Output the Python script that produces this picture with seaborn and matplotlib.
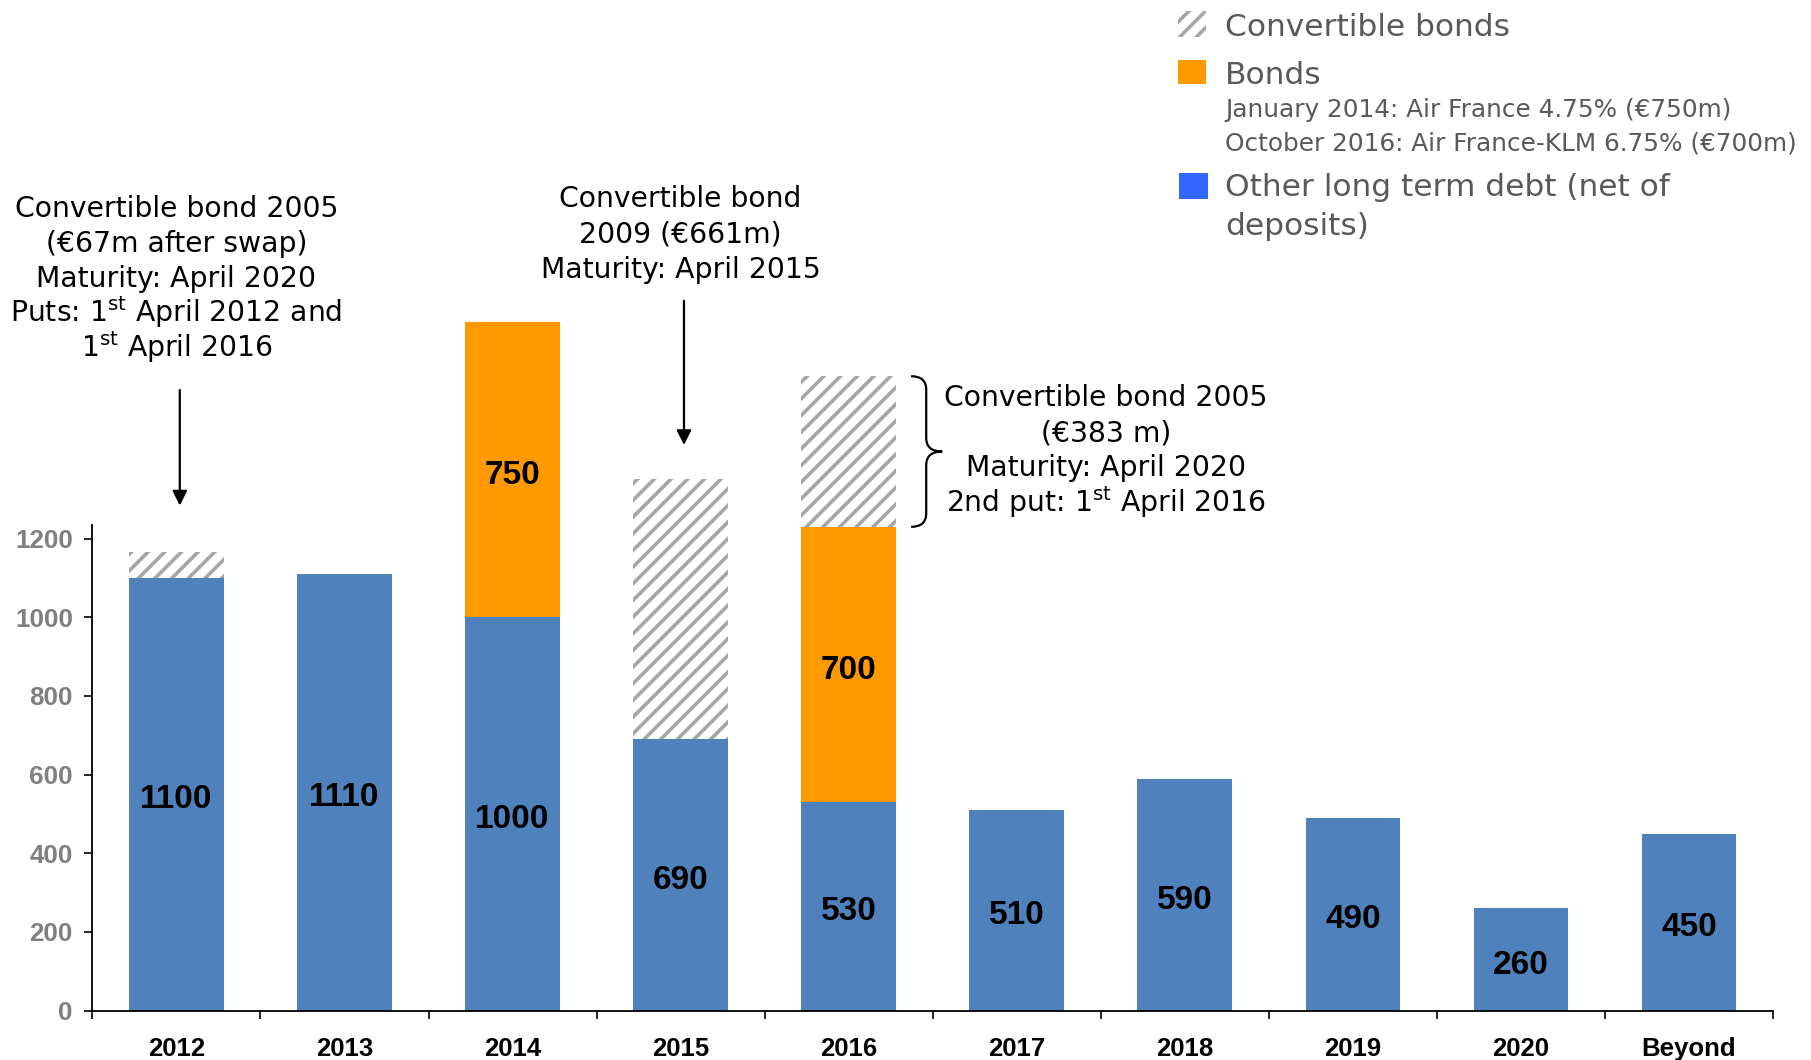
import numpy as np
import pandas as pd
import matplotlib
matplotlib.use("Agg")
import matplotlib.pyplot as plt
from matplotlib.patches import Rectangle, PathPatch
from matplotlib.path import Path
import seaborn as sns

# ---------------- data ----------------
categories = ["2012", "2013", "2014", "2015", "2016", "2017", "2018", "2019", "2020", "Beyond"]
other_debt = [1100, 1110, 1000, 690, 530, 510, 590, 490, 260, 450]
bonds = [0, 0, 750, 0, 700, 0, 0, 0, 0, 0]
convertible = [67, 0, 0, 661, 383, 0, 0, 0, 0, 0]
y_ticks = [0, 200, 400, 600, 800, 1000, 1200]

legend_labels = ["Convertible bonds", "Bonds", "Other long term debt (net of\ndeposits)"]
bond_notes = ["January 2014: Air France 4.75% (€750m)",
              "October 2016: Air France-KLM 6.75% (€700m)"]
note_2012 = ["Convertible bond 2005", "(€67m after swap)", "Maturity: April 2020",
             "Puts: 1$^{st}$ April 2012 and", "1$^{st}$ April 2016"]
note_2015 = ["Convertible bond", "2009 (€661m)", "Maturity: April 2015"]
note_2016 = ["Convertible bond 2005", "(€383 m)", "Maturity: April 2020",
             "2nd put: 1$^{st}$ April 2016"]

# ---------------- style ----------------
sns.set_theme(style="white")
plt.rcParams["font.family"] = ["DejaVu Sans"]
plt.rcParams["mathtext.default"] = "regular"
plt.rcParams["hatch.linewidth"] = 2.6
plt.rcParams["hatch.color"] = "#A6A6A6"

BLUE = "#4F81BD"
ORANGE = "#FF9900"
HATCH = "#A6A6A6"
LEG_BLUE = "#3366FF"
GREY_TXT = "#595959"

df = pd.DataFrame({"cat": categories, "other": other_debt, "bonds": bonds, "conv": convertible})
df["lvl2"] = df["other"] + df["bonds"]
df["total"] = df["lvl2"] + df["conv"]

W, H = 1811, 1060
fig = plt.figure(figsize=(W / 100, H / 100), dpi=100)
left_px, right_px, base_px = 92.4, 1773.0, 1010.6
px_per_unit = 0.3933
ymax = base_px / px_per_unit
ax = fig.add_axes([left_px / W, 1 - base_px / H, (right_px - left_px) / W, base_px / H])

bw = 0.563
sns.barplot(data=df, x="cat", y="total", order=categories, color="white", saturation=1,
            width=bw, edgecolor=HATCH, linewidth=0, hatch="//", errorbar=None, ax=ax)
sns.barplot(data=df, x="cat", y="lvl2", order=categories, color=ORANGE, saturation=1,
            width=bw, linewidth=0, errorbar=None, ax=ax)
sns.barplot(data=df, x="cat", y="other", order=categories, color=BLUE, saturation=1,
            width=bw, linewidth=0, errorbar=None, ax=ax)

ax.set_xlim(-0.5, len(categories) - 0.5)
ax.set_ylim(0, ymax)
ax.set_xlabel("")
ax.set_ylabel("")

# spines
for s in ["top", "right"]:
    ax.spines[s].set_visible(False)
ax.spines["left"].set_bounds(0, 1235)
ax.spines["left"].set_color("black")
ax.spines["bottom"].set_color("black")
ax.spines["left"].set_linewidth(1.3)
ax.spines["bottom"].set_linewidth(1.3)

ax.set_yticks(y_ticks)
ax.set_yticklabels([str(v) for v in y_ticks])
ax.tick_params(axis="y", which="major", length=6, width=1.2, color="black", direction="out",
               pad=8, left=True)
for lab in ax.get_yticklabels():
    lab.set_fontfamily("Liberation Sans")
    lab.set_fontweight("bold")
    lab.set_fontsize(18.7)
    lab.set_color("#808080")

ax.set_xticks(range(len(categories)))
ax.set_xticklabels(categories)
ax.set_xticks(np.arange(-0.5, len(categories), 1), minor=True)
ax.tick_params(axis="x", which="major", length=0, pad=19)
ax.tick_params(axis="x", which="minor", length=6, width=1.2, color="black", direction="out", bottom=True)
for lab in ax.get_xticklabels():
    lab.set_fontfamily("Liberation Sans")
    lab.set_fontweight("bold")
    lab.set_fontsize(18.5)
    lab.set_color("black")

# value labels
val_kw = dict(ha="center", va="center", fontsize=24, fontweight="bold", family="Liberation Sans",
              color="black", textcoords="offset points", xytext=(0, -4))
for i, (o, b) in enumerate(zip(other_debt, bonds)):
    ax.annotate(str(o), xy=(i, o / 2), **val_kw)
    if b > 0:
        ax.annotate(str(b), xy=(i, o + b / 2), **val_kw)

# annotations: one text per line with even line spacing
line_step = 89.5   # data units between lines
base_shift = 25    # visual line centre to baseline
ann_kw = dict(ha="center", va="baseline", fontsize=20.3, color="black")


def note(x, y_first_center, lines):
    for k, line in enumerate(lines):
        ax.text(x, y_first_center - k * line_step - base_shift, line, **ann_kw)


note(0, 2044, note_2012)
ax.annotate("", xy=(0.02, df["total"][0] + 110), xytext=(0.02, 1585),
            arrowprops=dict(arrowstyle="-|>", color="black", lw=1.6, mutation_scale=22))
note(3, 2067, note_2015)
ax.annotate("", xy=(3.02, df["total"][3] + 80), xytext=(3.02, 1812),
            arrowprops=dict(arrowstyle="-|>", color="black", lw=1.6, mutation_scale=22))
note(5.53, 1562, note_2016)

# curly brace for 2016 convertible segment
y0, y1 = df["lvl2"][4], df["total"][4]
x0 = 4 + bw / 2 + 0.09
xa = x0 + 0.09
xt = x0 + 0.185
ym = (y0 + y1) / 2
yr = (y1 - y0) * 0.09
verts = [(x0, y1), (xa, y1), (xa, y1 - yr),
         (xa, ym + yr), (xa, ym), (xt, ym),
         (xa, ym), (xa, ym - yr),
         (xa, y0 + yr), (xa, y0), (x0, y0)]
codes = [Path.MOVETO, Path.CURVE3, Path.CURVE3,
         Path.LINETO, Path.CURVE3, Path.CURVE3,
         Path.CURVE3, Path.CURVE3,
         Path.LINETO, Path.CURVE3, Path.CURVE3]
ax.add_patch(PathPatch(Path(verts, codes), fill=False, edgecolor="black", lw=1.6, clip_on=False))

# legend (figure coordinates in pixels)
def fx(x):
    return x / W


def fy(y):
    return 1 - y / H


sq = [(1178, 11, 28, 26, dict(facecolor="white", edgecolor=HATCH, hatch="//", linewidth=0)),
      (1178, 60, 28, 24, dict(facecolor=ORANGE, linewidth=0)),
      (1179, 173, 29, 26, dict(facecolor=LEG_BLUE, linewidth=0))]
for x, y, w, h, kw in sq:
    fig.patches.append(Rectangle((fx(x), fy(y + h)), w / W, h / H, transform=fig.transFigure, **kw))

big = dict(fontsize=22.5, color=GREY_TXT, va="center", ha="left")
small = dict(fontsize=17.8, color=GREY_TXT, va="center", ha="left")
fig.text(fx(1225), fy(27), legend_labels[0], **big)
fig.text(fx(1225), fy(75), legend_labels[1], **big)
fig.text(fx(1225), fy(110), bond_notes[0], **small)
fig.text(fx(1225), fy(143), bond_notes[1], **small)
other_lines = legend_labels[2].split("\n")
fig.text(fx(1225), fy(188), other_lines[0], **big)
fig.text(fx(1225), fy(226), other_lines[1], **big)

fig.savefig("out.png", dpi=100)
